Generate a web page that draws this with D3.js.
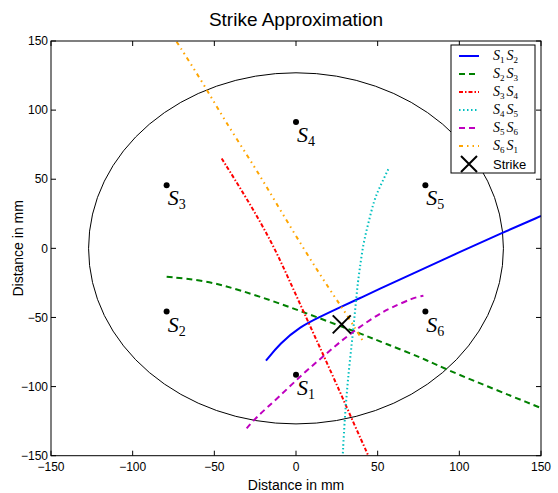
<!DOCTYPE html>
<HTML>
<HEAD>
<META charset="utf-8">
<TITLE>Strike Approximation</TITLE>

<STYLE>
body {
    margin: 0;
    background: white;
}
svg {
    width: 558px;
    height: 493px;
    font-family: "Liberation Sans", Arial, sans-serif;
}
</STYLE>

<SCRIPT type="text/javascript" src="https://d3js.org/d3.v7.min.js"></SCRIPT>

</HEAD>

<BODY>

<SVG id="chart"></SVG>

<SCRIPT type="text/javascript">

// sensor positions (mm), names drawn as S with subscript
const sensorNames = ["1", "2", "3", "4", "5", "6"];
const sensorX = [0, -79.2, -79.2, 0, 79.2, 79.2];
const sensorY = [-91.4, -45.7, 45.7, 91.4, 45.7, -45.7];

const plateRadius = 127;

// hyperbola arcs, [x, y] in mm
const curveS1S2 = [[-18.4, -81.3], [-9.8, -68.7], [2.4, -56.7], [14.7, -49.5], [26.9, -42.6],
    [39.2, -36.0], [50, -30.0], [69.8, -19.2], [100, -2.8], [127, 11.6], [150, 23.4]];
const curveS2S3 = [[-79.2, -20.5], [-54.7, -23.4], [-34.3, -30.2], [-9.8, -39.8], [14.7, -50.7],
    [39.2, -61.5], [54.5, -68.8], [78, -79.6], [92.3, -88], [150, -115.5]];
const curveS3S4 = [[-45.5, 65], [-30.2, 36.2], [-15, 5], [-4.5, -22], [6.6, -51],
    [16.7, -77], [27, -104], [35.5, -127], [44.3, -150]];
const curveS4S5 = [[56.5, 57.2], [51.4, 44.6], [47.8, 35], [44.3, 18.1], [41.2, 3.6], [39.2, -13.3],
    [37.5, -27.8], [35.1, -59.1], [32.3, -88], [30, -119.4], [28.6, -150]];
const curveS5S6 = [[-30.2, -130.2], [-24.1, -121.9], [-11.8, -109], [4.5, -90.4], [18.8, -76],
    [33.1, -61.5], [51.4, -47], [57.6, -43.4], [71.8, -35.7], [78, -34.3]];
const curveS6S1 = [[-73.1, 149.5], [-56.8, 119.4], [-44.5, 94.1], [-24.1, 56.7], [-13.9, 36.2],
    [4.5, 0], [20.8, -30.2], [32, -49.5], [41.2, -67.6]];

const seriesNames = [["1", "2"], ["2", "3"], ["3", "4"], ["4", "5"], ["5", "6"], ["6", "1"]];
const seriesCurves = [curveS1S2, curveS2S3, curveS3S4, curveS4S5, curveS5S6, curveS6S1];
const seriesColors = ["#0000ff", "#008000", "#ff0000", "#00bfbf", "#bf00bf", "#ffa500"];
const seriesDashes = [null, "6,4", "4,2,1.5,2", "1.5,2.5", "6,4", "4,4,1.5,4,1.5,4"];

const strikeX = 28;
const strikeY = -55;

const xTicks = [-150, -100, -50, 0, 50, 100, 150];
const yTicks = [-150, -100, -50, 0, 50, 100, 150];

const chart = d3.select("#chart");
const W = 558, H = 493;
const margin = {left: 51, right: 17, top: 41, bottom: 37.3};

const x = d3.scaleLinear().domain([-150, 150]).range([margin.left, W - margin.right]);
const y = d3.scaleLinear().domain([-150, 150]).range([H - margin.bottom, margin.top]);

chart.append("defs").append("clipPath").attr("id", "plot")
     .append("rect")
     .attr("x", x(-150)).attr("y", y(150))
     .attr("width", x(150) - x(-150)).attr("height", y(-150) - y(150));

// title
chart.append("text")
     .attr("x", (x(-150) + x(150)) / 2).attr("y", 26)
     .attr("text-anchor", "middle")
     .style("font-size", "19px")
     .text("Strike Approximation");

// plate outline
chart.append("ellipse")
     .attr("cx", x(0)).attr("cy", y(0))
     .attr("rx", x(plateRadius) - x(0)).attr("ry", y(0) - y(plateRadius))
     .style("fill", "none").style("stroke", "black").style("stroke-width", 1);

const line = d3.line().x(d => x(d[0])).y(d => y(d[1])).curve(d3.curveBasis);

const plot = chart.append("g").attr("clip-path", "url(#plot)");

plot.selectAll("path.arc")
    .data(seriesCurves)
    .enter()
    .append("path")
    .classed("arc", true)
    .attr("d", line)
    .style("fill", "none")
    .style("stroke", (d, i) => seriesColors[i])
    .style("stroke-width", 2)
    .style("stroke-dasharray", (d, i) => seriesDashes[i]);

// sensors
const sensors = chart.selectAll("g.sensor")
    .data(sensorNames)
    .enter()
    .append("g")
    .classed("sensor", true)
    .attr("transform", (d, i) => `translate(${x(sensorX[i])}, ${y(sensorY[i])})`);

sensors.append("circle").attr("r", 3).style("fill", "black");

const sLabel = sensors.append("text")
    .attr("x", 1).attr("y", 20)
    .style("font-family", "'Liberation Serif', serif")
    .style("font-size", "22px");
sLabel.append("tspan").style("font-style", "italic").text("S");
sLabel.append("tspan").attr("dy", 4).style("font-size", "14px").text(d => d);

// strike marker
function cross(g, cx, cy, s) {
    g.append("path")
     .attr("d", `M${cx - s},${cy - s}L${cx + s},${cy + s}M${cx - s},${cy + s}L${cx + s},${cy - s}`)
     .style("stroke", "black").style("stroke-width", 2).style("fill", "none");
}
cross(chart, x(strikeX), y(strikeY), 9);

// frame and ticks
const frame = chart.append("g");
frame.append("rect")
     .attr("x", x(-150)).attr("y", y(150))
     .attr("width", x(150) - x(-150)).attr("height", y(-150) - y(150))
     .style("fill", "none").style("stroke", "black").style("stroke-width", 1);

const fmt = t => String(t).replace("-", "\u2212");
const TICK = 5;
xTicks.forEach(t => {
    frame.append("line").attr("x1", x(t)).attr("x2", x(t))
         .attr("y1", y(-150)).attr("y2", y(-150) - TICK).style("stroke", "black");
    frame.append("line").attr("x1", x(t)).attr("x2", x(t))
         .attr("y1", y(150)).attr("y2", y(150) + TICK).style("stroke", "black");
    frame.append("text")
         .attr("x", x(t)).attr("y", y(-150) + 15)
         .attr("text-anchor", "middle")
         .style("font-size", "12px")
         .text(fmt(t));
});
yTicks.forEach(t => {
    frame.append("line").attr("y1", y(t)).attr("y2", y(t))
         .attr("x1", x(-150)).attr("x2", x(-150) + TICK).style("stroke", "black");
    frame.append("line").attr("y1", y(t)).attr("y2", y(t))
         .attr("x1", x(150)).attr("x2", x(150) - TICK).style("stroke", "black");
    frame.append("text")
         .attr("x", x(-150) - 3).attr("y", y(t)).attr("dy", "0.35em")
         .attr("text-anchor", "end")
         .style("font-size", "12px")
         .text(fmt(t));
});

chart.append("text")
     .attr("x", (x(-150) + x(150)) / 2).attr("y", 490)
     .attr("text-anchor", "middle")
     .style("font-size", "14px")
     .text("Distance in mm");

chart.append("text")
     .attr("transform", `translate(23, ${(y(-150) + y(150)) / 2}) rotate(-90)`)
     .attr("text-anchor", "middle")
     .style("font-size", "14px")
     .text("Distance in mm");

// legend
const LX = 451, LY = 45, ROW = 18;
const legend = chart.append("g");
legend.append("rect")
      .attr("x", LX).attr("y", LY).attr("width", 84).attr("height", 128)
      .style("fill", "white").style("stroke", "black").style("stroke-width", 1);

const rows = legend.selectAll("g.row")
    .data(seriesNames)
    .enter()
    .append("g")
    .classed("row", true)
    .attr("transform", (d, i) => `translate(${LX}, ${LY + 11 + i * ROW})`);

rows.append("line")
    .attr("x1", 8).attr("x2", 28).attr("y1", 0).attr("y2", 0)
    .style("stroke", (d, i) => seriesColors[i])
    .style("stroke-width", 2)
    .style("stroke-dasharray", (d, i) => seriesDashes[i]);

const lt = rows.append("text")
    .attr("x", 42).attr("y", 4)
    .style("font-family", "'Liberation Serif', serif")
    .style("font-size", "14px");
lt.append("tspan").style("font-style", "italic").text("S");
lt.append("tspan").attr("dy", 3).style("font-size", "9px").text(d => d[0]);
lt.append("tspan").attr("dy", -3).attr("dx", 2).style("font-style", "italic").text("S");
lt.append("tspan").attr("dy", 3).style("font-size", "9px").text(d => d[1]);

cross(legend, LX + 18, LY + 11 + 6 * ROW, 8);
legend.append("text")
      .attr("x", LX + 42).attr("y", LY + 11 + 6 * ROW + 5)
      .style("font-size", "13px")
      .text("Strike");

</SCRIPT>

</BODY>
</HTML>
